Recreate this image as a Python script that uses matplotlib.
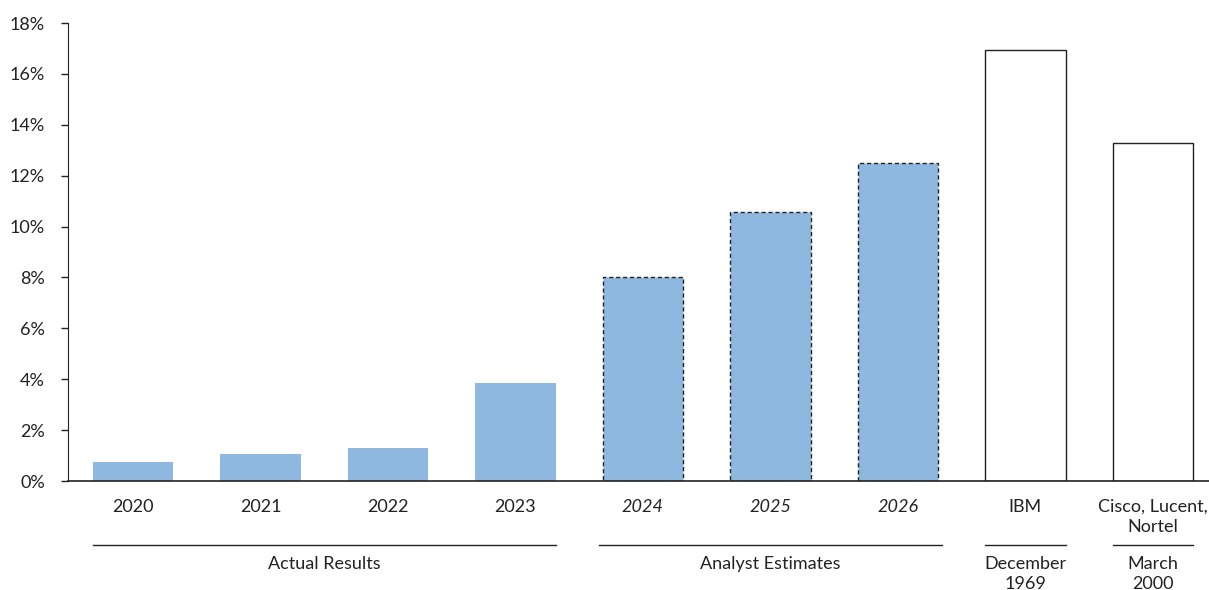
import matplotlib
matplotlib.use("Agg")
import matplotlib.pyplot as plt
from matplotlib.ticker import FuncFormatter

plt.rcParams['font.family'] = ['Lato', 'DejaVu Sans']

categories = ["2020", "2021", "2022", "2023", "2024", "2025", "2026", "IBM", "Cisco, Lucent,\nNortel"]
values = [0.75, 1.06, 1.3, 3.85, 8.02, 10.57, 12.5, 16.94, 13.29]
kinds = ["actual", "actual", "actual", "actual", "estimate", "estimate", "estimate", "history", "history"]
groups = [("Actual Results", 0, 3), ("Analyst Estimates", 4, 6), ("December\n1969", 7, 7), ("March\n2000", 8, 8)]
yticks = [0, 2, 4, 6, 8, 10, 12, 14, 16, 18]

W, H = 1209, 590
fig = plt.figure(figsize=(W/100, H/100), dpi=100)
ax = fig.add_axes([68/W, (H-481)/H, (W-68)/W, (481-23)/H])

blue = "#8FB8E0"
bw = 0.63
x = list(range(len(categories)))
for i, (v, k) in enumerate(zip(values, kinds)):
    if k == "actual":
        ax.bar(i, v, width=bw, color=blue, edgecolor="none", zorder=2)
    elif k == "estimate":
        ax.bar(i, v, width=bw, color=blue, edgecolor="#222222", linestyle=(0, (3, 2)), linewidth=1.0, zorder=2)
    else:
        ax.bar(i, v, width=bw, color="white", edgecolor="#222222", linewidth=1.0, zorder=2)

ax.set_xlim(-0.51, 8.44)
ax.set_ylim(0, 18)
ax.set_yticks(yticks)
ax.yaxis.set_major_formatter(FuncFormatter(lambda v, p: f"{v:.0f}%"))
ax.tick_params(axis='y', direction='out', length=5, width=1, colors="#222222", labelsize=13, pad=11.5)
ax.set_xticks(x)
ax.set_xticklabels(categories, fontsize=13, color="#222222", linespacing=1.32, va="top")
for lbl, k in zip(ax.get_xticklabels(), kinds):
    if k == "estimate":
        lbl.set_style("italic")
ax.tick_params(axis='x', length=0, pad=13)
for s in ["top", "right"]:
    ax.spines[s].set_visible(False)
ax.spines["left"].set_color("#222222")
ax.spines["bottom"].set_color("#222222")
ax.spines["bottom"].set_linewidth(1.2)

tr = ax.get_xaxis_transform()
axh = 481 - 23
line_y = (481 - 545) / axh
for name, a, b in groups:
    extra = 0.03 if name == "Analyst Estimates" else 0.0
    x0 = a - bw/2 - extra
    x1 = b + bw/2 + extra
    ax.plot([x0, x1], [line_y, line_y], color="#222222", linewidth=1.0, transform=tr, clip_on=False)
    ty = (481 - 556) / axh
    ax.text((a + b) / 2, ty, name, transform=tr, ha="center", va="top", fontsize=13,
            color="#222222", linespacing=1.32)

fig.savefig("out.png", dpi=100, facecolor="white")
